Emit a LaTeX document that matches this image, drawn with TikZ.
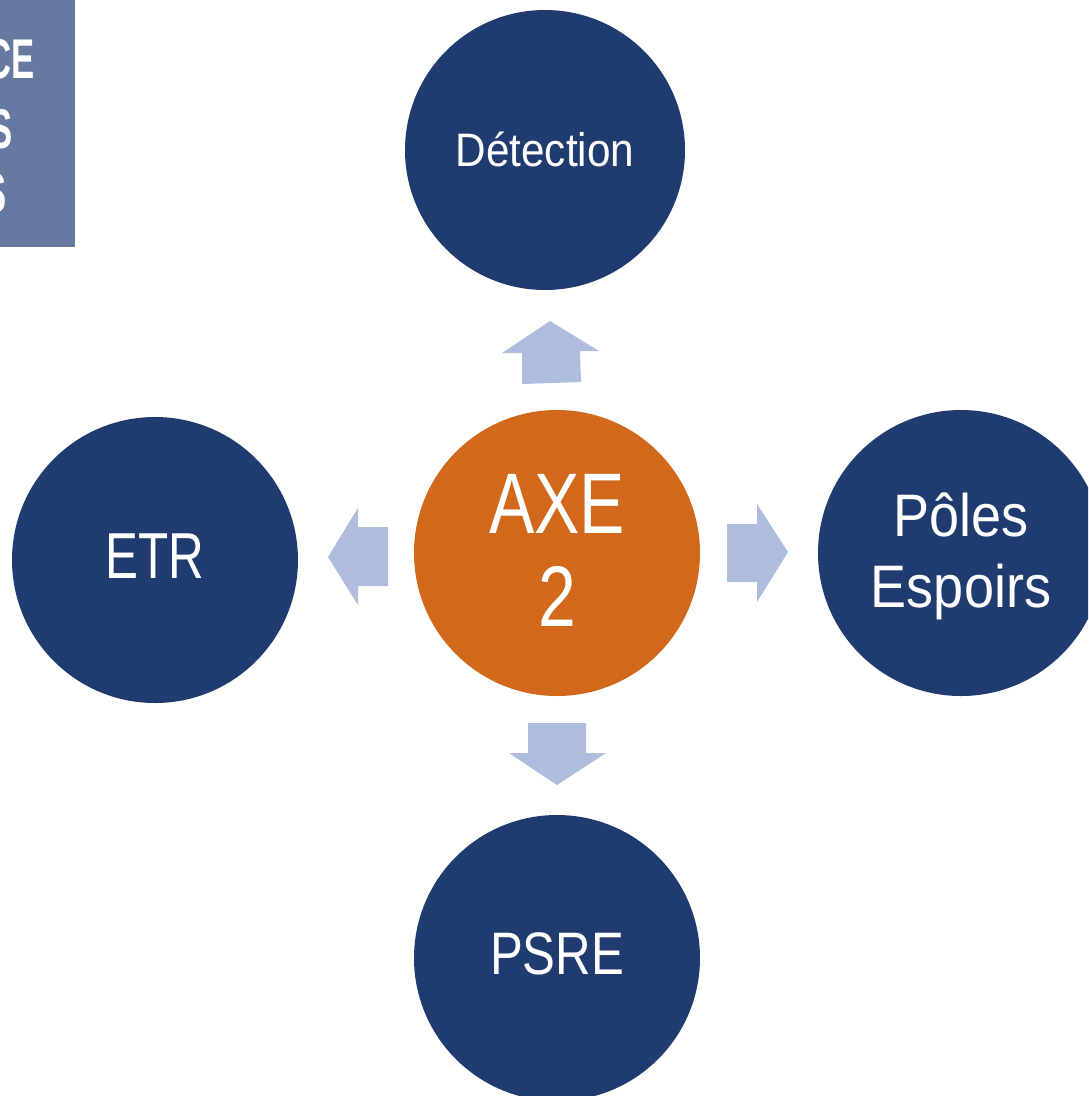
\documentclass[tikz,border=0pt]{standalone}
\usepackage{fontspec}
\usepackage{graphicx}
\setmainfont{Liberation Sans}
\definecolor{darkblue}{RGB}{31,59,112}
\definecolor{axeorange}{RGB}{209,104,27}
\definecolor{arrowblue}{RGB}{174,189,222}
\definecolor{boxblue}{RGB}{104,121,161}
\newcommand{\lbl}[4]{\scalebox{#1}[1]{\fontsize{#2}{#3}\selectfont\begin{tabular}{@{}c@{}}#4\end{tabular}}}
\newcommand{\boxlbl}[1]{\scalebox{0.62}[1]{\bfseries\fontsize{56}{56}\selectfont #1}}
\tikzset{
  bubble/.style={circle, draw=none, minimum size=286pt, inner sep=0pt},
  bubbletext/.style={text=white, inner sep=0pt},
  blockarrow/.style={fill=arrowblue, draw=none},
  boxtext/.style={text=white, anchor=base east, inner sep=0pt}
}
\begin{document}
\begin{tikzpicture}[x=1pt,y=-1pt]
\useasboundingbox (0,0) rectangle (1088,1096);
\clip (0,0) rectangle (1088,1096);
\fill[white] (0,0) rectangle (1088,1096);
% top-left box
\fill[boxblue] (-100,-10) rectangle (75,247);
\node[boxtext] (t1) at (35,78) {\boxlbl{CE}};
\node[boxtext] (t2) at (13,148) {\boxlbl{S}};
\node[boxtext] (t3) at (7,212) {\boxlbl{S}};
% circles
\node[bubble, fill=darkblue, minimum size=280pt] (det) at (545,150) {};
\node[bubble, fill=axeorange] (axe) at (557,553) {};
\node[bubble, fill=darkblue] (etr) at (155,560) {};
\node[bubble, fill=darkblue] (poles) at (961,553) {};
\node[bubble, fill=darkblue] (psre) at (557,958) {};
% labels
\node[bubbletext] (det-t) at ([yshift=-6pt]det.center) {\lbl{0.9}{47}{52}{Détection}};
\node[bubbletext] (axe-t) at ([yshift=-8pt]axe.center) {\lbl{0.79}{86}{93}{AXE\\2}};
\node[bubbletext] (etr-t) at ([yshift=-4pt]etr.center) {\lbl{0.76}{65}{70}{ETR}};
\node[bubbletext] (poles-t) at ([yshift=-5pt]poles.center) {\lbl{0.9}{60}{71}{Pôles\\Espoirs}};
\node[bubbletext] (psre-t) at ([yshift=-3pt]psre.center) {\lbl{0.82}{60}{66}{PSRE}};
% block arrows
\fill[blockarrow] (522,384) -- (581,382) -- (580,351) -- (599,351) -- (550,321) -- (502,353) -- (522,353) -- cycle;
\fill[blockarrow] (388,586) -- (388,527) -- (358,527) -- (358,508) -- (328,557) -- (358,605) -- (358,586) -- cycle;
\fill[blockarrow] (727,524) -- (727,582) -- (757,582) -- (757,602) -- (788,552) -- (757,504) -- (757,524) -- cycle;
\fill[blockarrow] (528,723) -- (586,723) -- (586,753) -- (606,753) -- (557,785) -- (509,753) -- (528,753) -- cycle;
\end{tikzpicture}
\end{document}
